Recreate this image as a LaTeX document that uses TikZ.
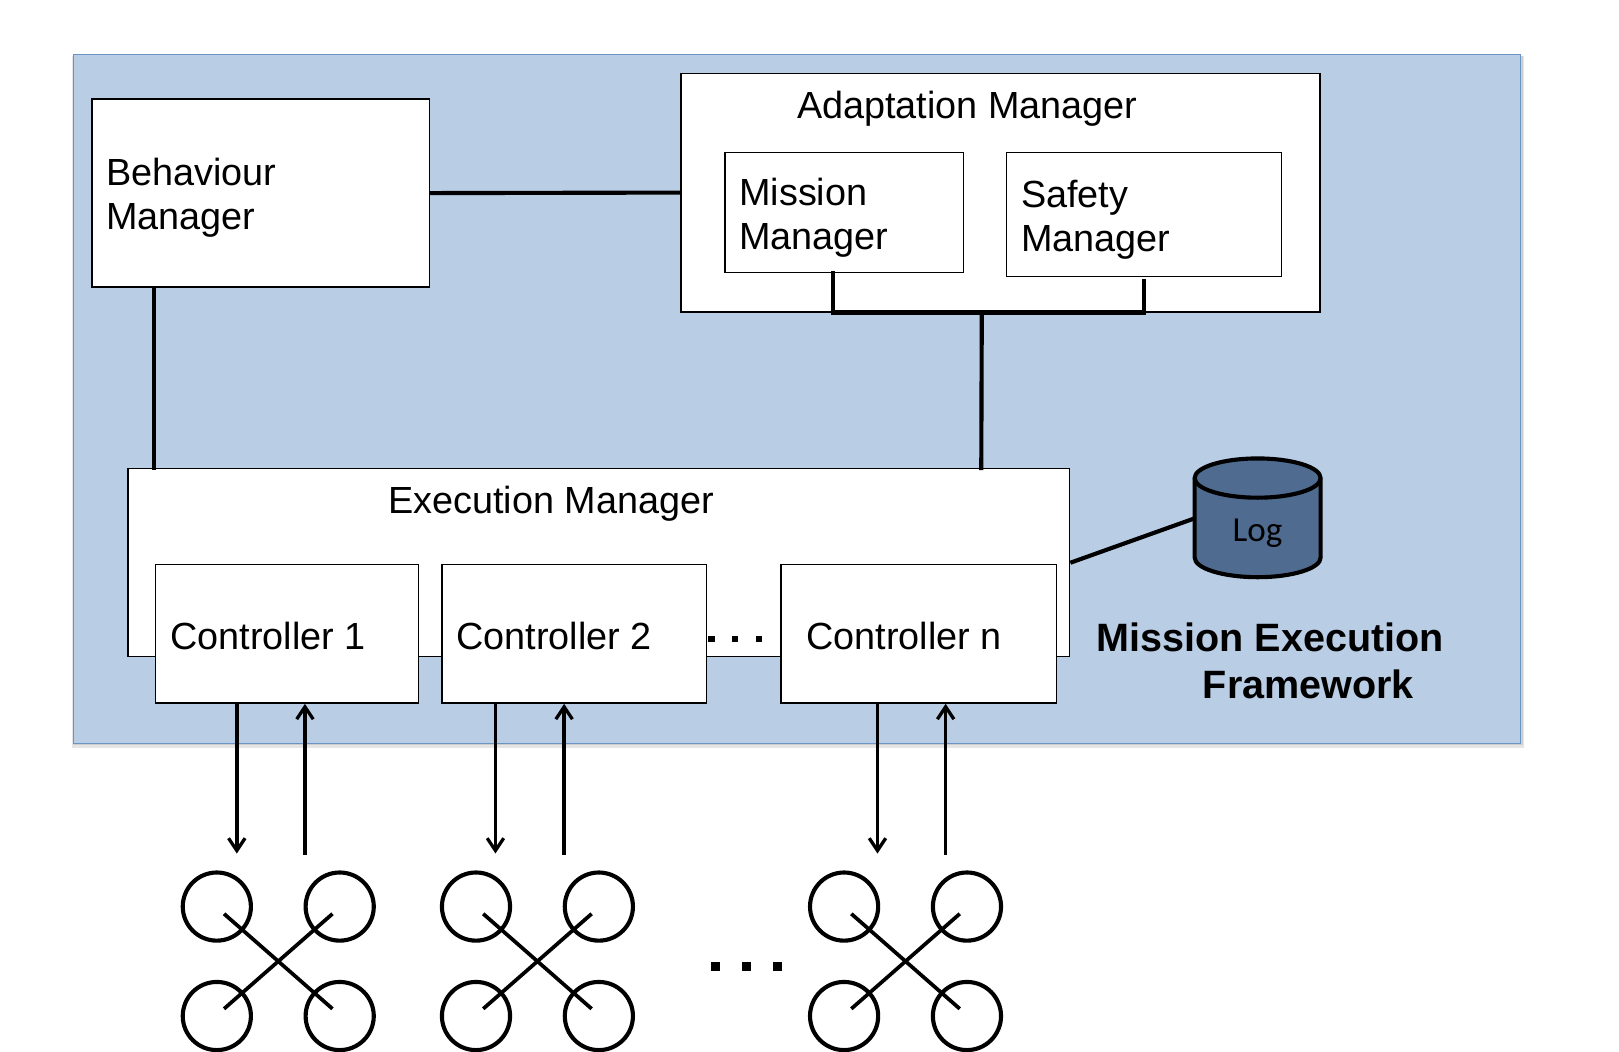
\documentclass[tikz,border=0pt]{standalone}
\usepackage{fontspec}
\setmainfont{Liberation Sans}
\newfontfamily\logfont{Carlito}
\usetikzlibrary{arrows.meta,calc}
\tikzset{
  x=0.5pt,y=-0.5pt,
  panel/.style={draw=panelline,fill=panelfill,line width=0.6pt},
  boxnode/.style={draw=black,fill=white,line width=0.65pt,inner sep=0pt,rectangle},
  lbl/.style={inner sep=0pt,outer sep=0pt,anchor=base west,align=left,font=\fontsize{18.3pt}{21.5pt}\selectfont},
  boldlbl/.style={inner sep=0pt,outer sep=0pt,anchor=base west,align=left,font=\fontsize{19.15pt}{22.3pt}\selectfont\bfseries},
  conn/.style={draw=black,line width=2pt},
  flow/.style={draw=black,line width=1.7pt,-{Straight Barb[length=6pt,width=8pt,line width=1.6pt]}},
  rotor/.style={circle,draw=black,line width=2pt,minimum size=33pt,inner sep=0pt},
  arm/.style={draw=black,line width=1.8pt},
  dotmark/.style={fill=black,draw=none},
}
\definecolor{panelfill}{HTML}{B9CDE5}
\definecolor{panelline}{HTML}{6A94C6}
\definecolor{logfill}{HTML}{4F6B90}
\newcommand{\rectnode}[5]{%
  \node[boxnode,minimum width={(#4-#2)*0.5pt},minimum height={(#5-#3)*0.5pt}] (#1) at ({(#2+#4)/2},{(#3+#5)/2}) {};}
\begin{document}
\begin{tikzpicture}
\useasboundingbox (0,0) rectangle (1568,1018);
% shadow and panel
\fill[black,opacity=0.10] (70,54) rectangle (1476,724);
\fill[black,opacity=0.10] (71,54) rectangle (1475,722);
\draw[panel] (71.5,52.5) rectangle (1472.5,720);
% boxes
\rectnode{bm}{89}{96}{416}{278}
\rectnode{am}{659.5}{71}{1278.5}{302}
\rectnode{mm}{702}{148}{933}{264}
\rectnode{sm}{975}{148}{1241}{268}
\rectnode{em}{124}{454}{1036}{636}
\rectnode{ca}{150.5}{547}{405}{681}
\rectnode{cb}{428}{547}{684}{681}
\rectnode{cn}{756.5}{547}{1023}{681}
% labels
\node[lbl] (tbm) at (103,222.5) {Behaviour\\Manager};
\node[lbl] (tam) at (772,115) {Adaptation Manager};
\node[lbl] (tmm) at (716,242) {Mission\\Manager};
\node[lbl] (tsm) at (989,244) {Safety\\Manager};
\node[lbl] (tem) at (376,497) {Execution Manager};
\node[lbl] (tca) at (165,629) {Controller 1};
\node[lbl] (tcb) at (442,629) {Controller 2};
\node[lbl] (tcn) at (781,629) {Controller n};
\node[boldlbl] (tf) at (1062,676) {Mission Execution\\\hspace*{51.5pt}Framework};
% log cylinder
\draw[draw=black,line width=2pt,fill=logfill]
  (1157,463) -- (1157,540) arc[start angle=180,end angle=0,x radius=61,y radius=19] -- (1279,463)
  arc[start angle=0,end angle=180,x radius=61,y radius=-19] -- cycle;
\draw[draw=black,line width=2pt]
  (1157,463) arc[start angle=180,end angle=0,x radius=61,y radius=19];
\node[inner sep=0pt,anchor=base,font=\logfont\fontsize{17pt}{20pt}\selectfont] (log) at (1218,524) {Log};
\coordinate (logw) at (1157,502);
% connectors
\draw[conn] (bm.east) -- (am.west);
\draw[conn] ($(bm.south west)+(61,-2)$) -- ($(em.north west)+(26,2)$);
\coordinate (busl) at ($(mm.south west)+(105,38)$);
\coordinate (busr) at ($(sm.south west)+(133.5,34)$);
\draw[conn,line join=miter] ($(mm.south west)+(105,-2)$) -- (busl) -- (busr) -- ($(sm.south west)+(133.5,2)$);
\draw[conn] ($(busl)+(144.5,0)$) -- ($(em.north west)+(827,2)$);
\draw[conn] (em.east) -- (logw);
% controller arrows
\foreach \c/\dn/\up in {ca/79.5/145.5,cb/52.5/119,cn/94/160}{
  \coordinate (\c dn) at ($(\c.south west)+(\dn,145)$);
  \coordinate (\c up) at ($(\c.south west)+(\up,146)$);
  \draw[flow] ($(\c.south west)+(\dn,0)$) -- (\c dn);
  \draw[flow] (\c up) -- ($(\c.south west)+(\up,0)$);
}
% dots
\foreach \x in {689,712,735}{\fill[dotmark] (\x-3,616) rectangle (\x+3,622);}
\foreach \x in {693,723,753}{\fill[dotmark] (\x-4,932) rectangle (\x+4,940);}
% drones
\foreach \k/\dx in {a/0,b/251,c/607.5}{
 \begin{scope}[shift={(\dx,0)}]
  \node[rotor] (\k nw) at (210,878) {};
  \node[rotor] (\k ne) at (329,878) {};
  \node[rotor] (\k sw) at (210,984) {};
  \node[rotor] (\k se) at (329,984) {};
  \draw[arm] ($(\k nw.center)+(7,7)$) -- ($(\k se.center)+(-7,-7)$);
  \draw[arm] ($(\k ne.center)+(-7,7)$) -- ($(\k sw.center)+(7,-7)$);
 \end{scope}
}
\end{tikzpicture}
\end{document}
